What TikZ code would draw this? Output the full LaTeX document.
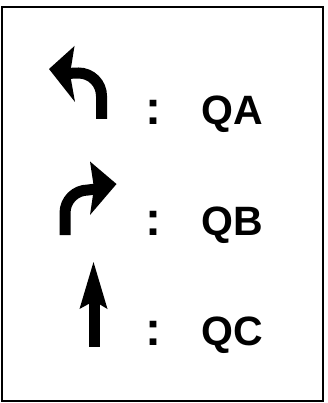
\documentclass[tikz,border=0pt]{standalone}
\usepackage{fontspec}
\setmainfont{Liberation Sans}
\begin{document}
\begin{tikzpicture}[x=1pt,y=-1pt,
  frame/.style={draw=black,line width=2pt},
  shaftline/.style={draw=black,line width=11pt,line cap=butt},
  headfill/.style={fill=black,draw=none},
  lbl/.style={anchor=base west,inner sep=0pt,font=\fontsize{41}{41}\selectfont\bfseries},
  colon/.style={anchor=base,inner sep=0pt,font=\fontsize{48}{48}\selectfont\bfseries}]
\useasboundingbox (0,0) rectangle (327,403);
\fill[white] (0,0) rectangle (327,403);
\draw[frame] (1.5,7) rectangle (322.5,400.5);
% left-turn arrow (QA)
\coordinate (a0) at (101.5,119);
\coordinate (a1) at (101.5,96);
\coordinate (a2) at (78.5,73);
\coordinate (a3) at (66,73.5);
\draw[shaftline] (a0) -- (a1) .. controls (101.5,83.3) and (91.2,73) .. (a2) -- (a3);
\fill[headfill] (74.5,46) -- (49,69) -- (75,102) -- (70,74) -- cycle;
% right-turn arrow (QB)
\coordinate (b0) at (65,235);
\coordinate (b1) at (65,213);
\coordinate (b2) at (88,190);
\coordinate (b3) at (100,188.5);
\draw[shaftline] (b0) -- (b1) .. controls (65,200.3) and (75.3,190) .. (b2) -- (b3);
\fill[headfill] (90,161.5) -- (116.5,184) -- (90,215) -- (94,188) -- cycle;
% straight arrow (QC)
\coordinate (c0) at (94,346.7);
\coordinate (c1) at (94,295);
\draw[shaftline] (c0) -- (c1);
\fill[headfill] (93.5,262) -- (107.5,309) -- (94,301) -- (79.5,309) -- cycle;
% labels
\node[colon] (ca) at (153.3,124.5) {:};
\node[lbl] (qa) at (201,124.5) {QA};
\node[colon] (cb) at (153.3,235) {:};
\node[lbl] (qb) at (201,235) {QB};
\node[colon] (cc) at (153.3,345) {:};
\node[lbl] (qc) at (201,345) {QC};
\end{tikzpicture}
\end{document}
